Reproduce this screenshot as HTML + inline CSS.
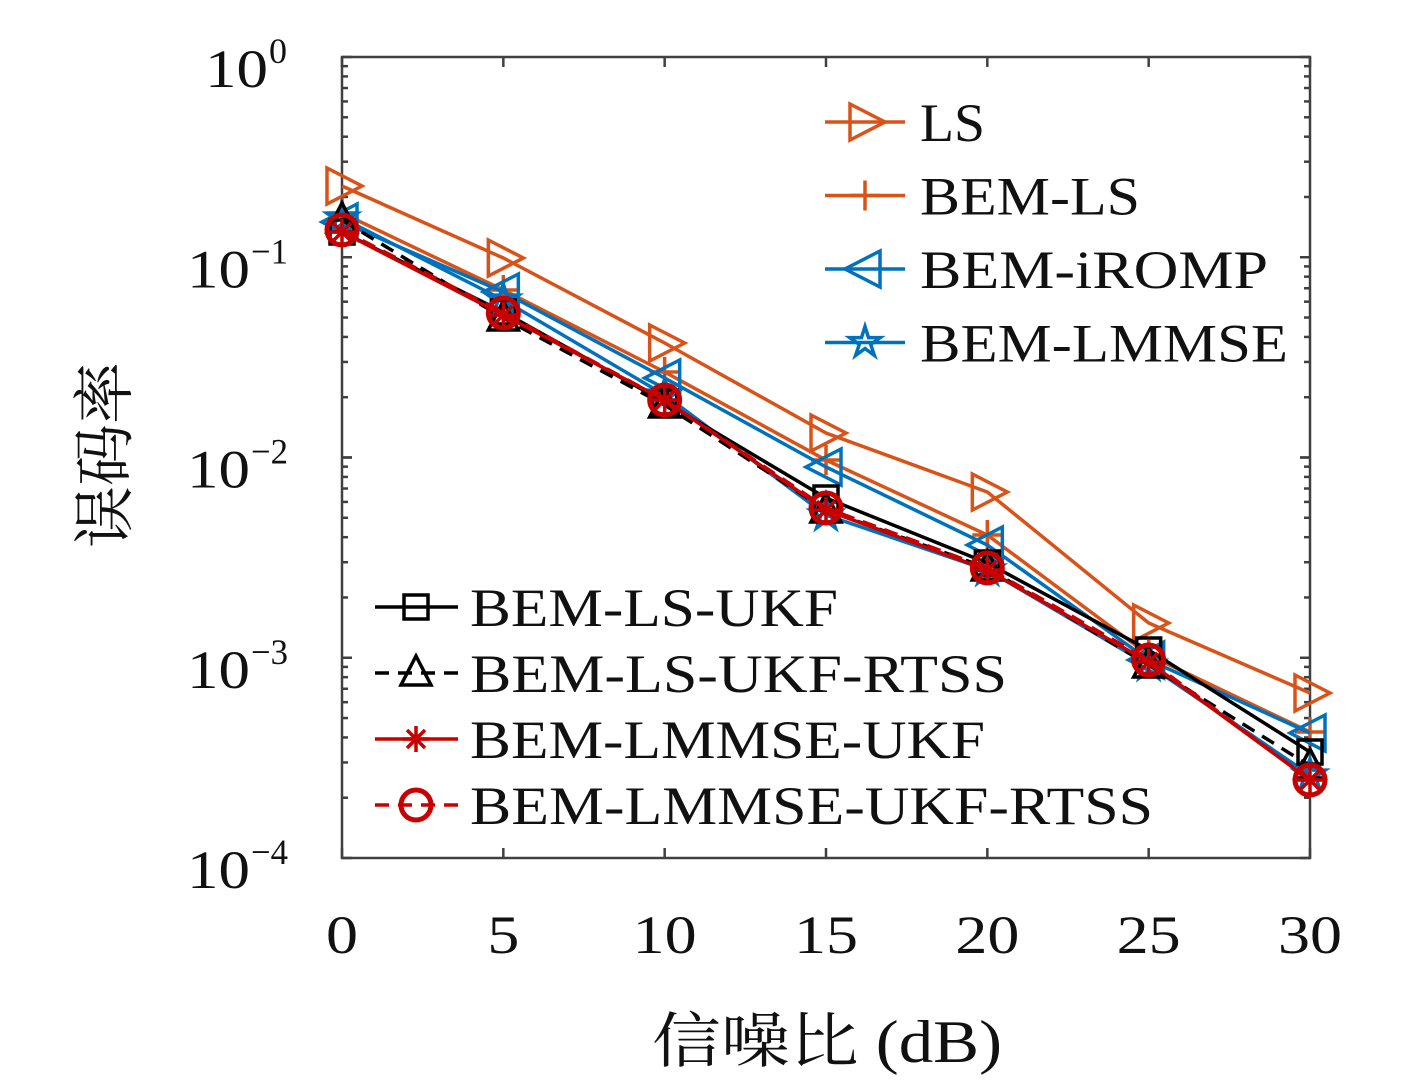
<!DOCTYPE html>
<html><head><meta charset="utf-8"><style>
body{margin:0;background:#fff}
svg{display:block}
text{font-family:"Liberation Serif","Noto Serif CJK SC",serif;fill:#111}
</style></head><body>
<svg id="s" width="1417" height="1087" xmlns="http://www.w3.org/2000/svg"></svg>
<script>
const S=document.getElementById('s');let h='';
const X0=342,X1=1310,Y0=57,Y1=858,dec=(Y1-Y0)/4;
const xs=v=>X0+v*(X1-X0)/30;
const O='#D95319',B='#0072BD',K='#000',R='#C80000';
const TL=(w)=>`textLength="${w}" lengthAdjust="spacingAndGlyphs"`;
h+=`<rect x="${X0}" y="${Y0}" width="${X1-X0}" height="${Y1-Y0}" fill="none" stroke="#404040" stroke-width="2.5"/>`;
for(let i=0;i<=6;i++){const x=xs(i*5);h+=`<line x1="${x}" y1="${Y1}" x2="${x}" y2="${Y1-10}" stroke="#404040" stroke-width="2.5"/><line x1="${x}" y1="${Y0}" x2="${x}" y2="${Y0+10}" stroke="#404040" stroke-width="2.5"/>`;
const w=i<2?32:64;h+=`<text x="${x-w/2}" y="953" font-size="54" ${TL(w)}>${i*5}</text>`;}
for(let d=0;d<4;d++){for(let m=1;m<=10;m++){const y=Y1-d*dec-Math.log10(m)*dec;const L=m==1||m==10?10:6;
h+=`<line x1="${X0}" y1="${y}" x2="${X0+L}" y2="${y}" stroke="#404040" stroke-width="2.5"/><line x1="${X1}" y1="${y}" x2="${X1-L}" y2="${y}" stroke="#404040" stroke-width="2.5"/>`;}}
const ex=['0','−1','−2','−3','−4'];
for(let k=0;k<5;k++){const y=Y0+k*dec;const x0=k==0?205:187;h+=`<text x="${x0}" y="${y+30}" font-size="54" ${TL(63)}>10</text><text x="${x0+64}" y="${y+6}" font-size="36" ${k?TL(37):''}>${ex[k]}</text>`;}
h+=`<text transform="translate(126,455) rotate(-90)" font-size="62" text-anchor="middle">误码率</text>`;
h+=`<text x="652" y="1062" font-size="60" ${TL(350)}>信噪比 (dB)</text>`;
function mk(t,x,y,c){switch(t){
case 'rt':return `<polygon points="${x-15},${y-18} ${x+20},${y} ${x-15},${y+18}" fill="none" stroke="${c}" stroke-width="3.5"/>`;
case 'lt':return `<polygon points="${x+15},${y-18} ${x-20},${y} ${x+15},${y+18}" fill="none" stroke="${c}" stroke-width="3.5"/>`;
case 'plus':return `<path d="M${x-15},${y}H${x+15}M${x},${y-15}V${y+15}" stroke="${c}" stroke-width="3.5"/>`;
case 'star':{let p=[];for(let i=0;i<10;i++){const r=i%2?6:16,a=-Math.PI/2+i*Math.PI/5;p.push((x+r*Math.cos(a)).toFixed(1)+','+(y+r*Math.sin(a)).toFixed(1));}return `<polygon points="${p.join(' ')}" fill="none" stroke="${c}" stroke-width="3.5"/>`;}
case 'sq':return `<rect x="${x-12}" y="${y-12}" width="24" height="24" fill="none" stroke="${c}" stroke-width="3.5"/>`;
case 'tri':return `<polygon points="${x},${y-17} ${x+15},${y+12} ${x-15},${y+12}" fill="none" stroke="${c}" stroke-width="3.5"/>`;
case 'ast':return `<path d="M${x-13},${y}H${x+13}M${x},${y-13}V${y+13}M${x-9},${y-9}L${x+9},${y+9}M${x-9},${y+9}L${x+9},${y-9}" stroke="${c}" stroke-width="3.5"/>`;
case 'circ':return `<circle cx="${x}" cy="${y}" r="15" fill="none" stroke="${c}" stroke-width="5"/>`;}}
const ser=[
[O,'rt','',[186,258,343,433,492,623,693]],
[O,'plus','',[213,290,372,460,535,655,732]],
[B,'lt','',[222,292,378,467,545,660,733]],
[B,'star','',[218,300,395,515,570,665,775]],
[K,'sq','',[232,312,402,498,563,650,752]],
[K,'tri','14,9',[220,318,405,510,568,665,766]],
[R,'ast','',[232,315,400,510,570,662,780]],
[R,'circ','14,9',[230,313,400,508,568,660,780]]];
for(const [c,m,da,ys] of ser){h+=`<polyline points="${ys.map((y,i)=>xs(i*5)+','+y).join(' ')}" fill="none" stroke="${c}" stroke-width="3.5" ${da?`stroke-dasharray="${da}"`:''}/>`;
ys.forEach((y,i)=>h+=mk(m,xs(i*5),y,c));}
const L1=[['LS',O,'rt',65],['BEM-LS',O,'plus',220],['BEM-iROMP',B,'lt',348],['BEM-LMMSE',B,'star',368]];
L1.forEach((e,i)=>{const y=122+i*73.5;h+=`<line x1="825" y1="${y}" x2="905" y2="${y}" stroke="${e[1]}" stroke-width="3.5"/>`+mk(e[2],865,y,e[1])+`<text x="920" y="${y+19}" font-size="54" ${TL(e[3])}>${e[0]}</text>`;});
const L2=[['BEM-LS-UKF',K,'sq','',368],['BEM-LS-UKF-RTSS',K,'tri','14,9',537],['BEM-LMMSE-UKF',R,'ast','',515],['BEM-LMMSE-UKF-RTSS',R,'circ','14,9',683]];
L2.forEach((e,i)=>{const y=607+i*66;h+=`<line x1="375" y1="${y}" x2="458" y2="${y}" stroke="${e[1]}" stroke-width="3.5" ${e[3]?`stroke-dasharray="${e[3]}"`:''}/>`+mk(e[2],416,y,e[1])+`<text x="470" y="${y+19}" font-size="54" ${TL(e[4])}>${e[0]}</text>`;});
S.innerHTML=h;
</script>
</body></html>
